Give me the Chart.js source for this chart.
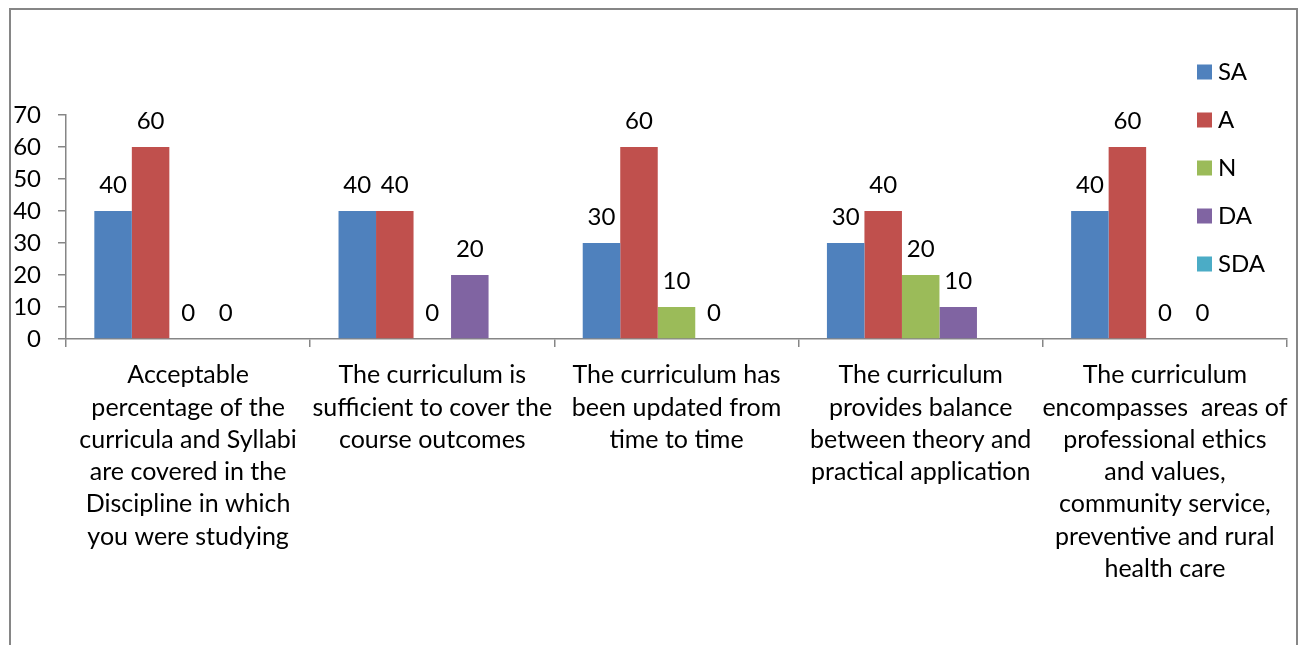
<!DOCTYPE html>
<html>
<head>
<meta charset="utf-8">
<script src="https://cdn.jsdelivr.net/npm/chart.js@4.4.1/dist/chart.umd.min.js"></script>
<style>
  html, body { margin: 0; padding: 0; background: #fff; }
  #wrap { width: 1304px; height: 645px; }
</style>
</head>
<body>
<div id="wrap"><canvas id="chart"></canvas></div>
<script>
const categories = [
    ['Acceptable', 'percentage of the', 'curricula and Syllabi', 'are covered in the', 'Discipline in which', 'you were studying'],
    ['The curriculum is', 'sufficient to cover the', 'course outcomes'],
    ['The curriculum has', 'been updated from', 'time to time'],
    ['The curriculum', 'provides balance', 'between theory and', 'practical application'],
    ['The curriculum', 'encompasses  areas of', 'professional ethics', 'and values,', 'community service,', 'preventive and rural', 'health care']
];
const seriesNames = ['SA', 'A', 'N', 'DA', 'SDA'];
const seriesColors = ['#4F81BD', '#C0504D', '#9BBB59', '#8064A2', '#4BACC6'];
const saValues = [40, 40, 30, 30, 40];
const aValues = [60, 40, 60, 40, 60];
const nValues = [0, 0, 10, 20, 0];
const daValues = [0, 20, 0, 10, 0];
const sdaValues = [null, null, null, null, null];
const yTicks = [0, 10, 20, 30, 40, 50, 60, 70];

const FONT = 'Lato';
const FS = 24;
const GRAY = '#868686';

const allValues = [saValues, aValues, nValues, daValues, sdaValues];

// border + white background
const frame = {
    id: 'frame',
    beforeDraw(chart) {
        const ctx = chart.ctx;
        ctx.save();
        ctx.fillStyle = '#fff';
        ctx.fillRect(0, 0, chart.width, chart.height);
        ctx.strokeStyle = GRAY;
        ctx.lineWidth = 2;
        ctx.strokeRect(10, 9, 1287, 660);
        ctx.restore();
    }
};

// value labels above bars
const valueLabels = {
    id: 'valueLabels',
    afterDatasetsDraw(chart) {
        const ctx = chart.ctx;
        ctx.save();
        ctx.font = FS + 'px ' + FONT;
        ctx.fillStyle = '#000';
        ctx.textAlign = 'center';
        ctx.textBaseline = 'middle';
        chart.data.datasets.forEach((ds, i) => {
            const meta = chart.getDatasetMeta(i);
            meta.data.forEach((bar, j) => {
                const v = ds.data[j];
                if (v === null || v === undefined) return;
                ctx.fillText(String(v), bar.x, bar.y - 26);
            });
        });
        ctx.restore();
    }
};

// legend drawn over the right side like Excel
const sideLegend = {
    id: 'sideLegend',
    afterDraw(chart) {
        const ctx = chart.ctx;
        ctx.save();
        ctx.font = FS + 'px ' + FONT;
        ctx.textBaseline = 'middle';
        ctx.textAlign = 'left';
        chart.data.datasets.forEach((ds, i) => {
            const y = 72 + i * 48;
            ctx.fillStyle = ds.backgroundColor;
            ctx.fillRect(1197, y - 7.5, 15, 15);
            ctx.fillStyle = '#000';
            ctx.fillText(ds.label, 1218, y);
        });
        ctx.restore();
    }
};

const data = {
    labels: categories,
    datasets: seriesNames.map((name, i) => ({
        label: name,
        data: allValues[i],
        backgroundColor: seriesColors[i],
        borderWidth: 0,
        categoryPercentage: 0.768,
        barPercentage: 1.0
    }))
};

const config = {
    type: 'bar',
    data: data,
    options: {
        responsive: false,
        animation: false,
        layout: { padding: { left: 0, right: 17, top: 115, bottom: 0 } },
        plugins: {
            legend: { display: false },
            tooltip: { enabled: false }
        },
        scales: {
            x: {
                grid: {
                    offset: true,
                    drawOnChartArea: false,
                    drawTicks: true,
                    tickLength: 8,
                    color: GRAY,
                    lineWidth: 1.5
                },
                border: { display: true, color: GRAY, width: 1.5 },
                ticks: {
                    color: '#000',
                    font: { family: FONT, size: 25, lineHeight: '32.3px' },
                    maxRotation: 0,
                    autoSkip: false,
                    padding: 12
                },
                afterFit(scale) { scale.height = 306; }
            },
            y: {
                min: 0,
                max: 70,
                afterBuildTicks(scale) { scale.ticks = yTicks.map(v => ({ value: v })); },
                grid: {
                    drawOnChartArea: false,
                    drawTicks: true,
                    tickLength: 8,
                    color: GRAY,
                    lineWidth: 1.5
                },
                border: { display: true, color: GRAY, width: 1.5 },
                ticks: {
                    color: '#000',
                    font: { family: FONT, size: FS },
                    padding: 17
                },
                afterFit(scale) { scale.width = 66; }
            }
        }
    },
    plugins: [frame, valueLabels, sideLegend]
};

const canvas = document.getElementById('chart');
canvas.width = 1304;
canvas.height = 645;
new Chart(canvas.getContext('2d'), config);
</script>
</body>
</html>
